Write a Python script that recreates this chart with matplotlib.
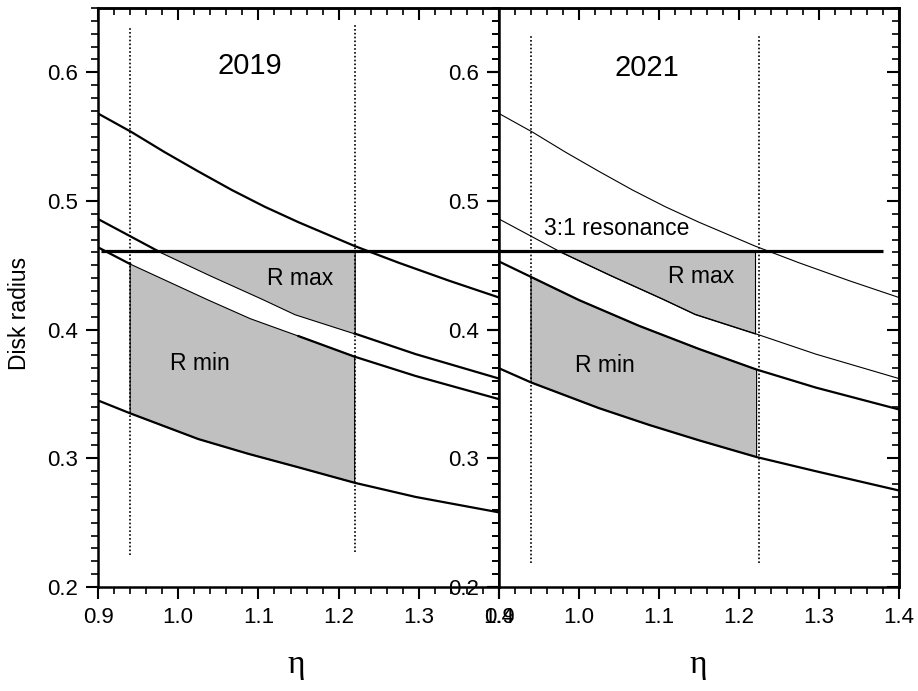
import numpy as np
import matplotlib
matplotlib.use("Agg")
import matplotlib.pyplot as plt
from matplotlib.ticker import MultipleLocator, FormatStrFormatter

plt.rcParams["font.family"] = ["Liberation Sans", "DejaVu Sans"]

# 3:1 resonance radius
resonance = 0.461

# R max curves (same in both years)
eta_a = [0.90, 0.942, 0.983, 1.025, 1.067, 1.108, 1.15, 1.22, 1.275, 1.338, 1.40]
r_a = [0.568, 0.5535, 0.538, 0.523, 0.5085, 0.4955, 0.4835, 0.465, 0.452, 0.438, 0.425]

eta_b = [0.90, 0.942, 0.975, 1.04, 1.104, 1.145, 1.22, 1.296, 1.40]
r_b = [0.486, 0.472, 0.461, 0.442, 0.424, 0.412, 0.397, 0.381, 0.362]

# R min curves 2019
eta_c19 = [0.90, 0.94, 1.0375, 1.09, 1.15, 1.22, 1.296, 1.40]
r_c19 = [0.464, 0.451, 0.423, 0.4085, 0.395, 0.379, 0.364, 0.346]
eta_d19 = [0.90, 0.94, 1.025, 1.0875, 1.15, 1.22, 1.296, 1.40]
r_d19 = [0.345, 0.335, 0.315, 0.3035, 0.293, 0.281, 0.270, 0.258]

# R min curves 2021
eta_c21 = [0.90, 0.94, 1.0, 1.075, 1.15, 1.222, 1.296, 1.40]
r_c21 = [0.453, 0.441, 0.423, 0.403, 0.385, 0.369, 0.355, 0.338]
eta_d21 = [0.90, 0.94, 1.025, 1.0875, 1.15, 1.222, 1.296, 1.40]
r_d21 = [0.370, 0.359, 0.339, 0.326, 0.314, 0.301, 0.290, 0.275]

eta_a, r_a = np.array(eta_a), np.array(r_a)
eta_b, r_b = np.array(eta_b), np.array(r_b)
eta_c19, r_c19 = np.array(eta_c19), np.array(r_c19)
eta_d19, r_d19 = np.array(eta_d19), np.array(r_d19)
eta_c21, r_c21 = np.array(eta_c21), np.array(r_c21)
eta_d21, r_d21 = np.array(eta_d21), np.array(r_d21)

GRAY = "#c0c0c0"
THICK = 1.6
THIN = 0.8
DOT = (0, (1, 1.3))


def band(ax, xu, yu, xl, yl, lo, hi):
    # shaded region between an upper and a lower curve, from lo to hi
    mu = (xu >= lo) & (xu <= hi)
    ml = (xl >= lo) & (xl <= hi)
    xs = np.concatenate([xu[mu], xl[ml][::-1]])
    ys = np.concatenate([yu[mu], yl[ml][::-1]])
    ax.fill(xs, ys, facecolor=GRAY, edgecolor="k", linewidth=THIN)


def rmax_band(ax, lo, hi):
    m = (eta_b >= lo) & (eta_b <= hi)
    ax.fill_between(eta_b[m], r_b[m], resonance, facecolor=GRAY, edgecolor="k", linewidth=THIN)


def style(ax):
    ax.set_xlim(0.9, 1.4)
    ax.set_ylim(0.2, 0.65)
    ax.xaxis.set_major_locator(MultipleLocator(0.1))
    ax.xaxis.set_minor_locator(MultipleLocator(0.02))
    ax.yaxis.set_major_locator(MultipleLocator(0.1))
    ax.yaxis.set_minor_locator(MultipleLocator(0.01))
    ax.xaxis.set_major_formatter(FormatStrFormatter("%.1f"))
    ax.yaxis.set_major_formatter(FormatStrFormatter("%.1f"))
    for s in ax.spines.values():
        s.set_linewidth(1.8)
    ax.tick_params(which="major", direction="out", length=8.6, width=1.5,
                   labelsize=16, pad=6, top=False, right=False)
    ax.tick_params(which="minor", direction="out", length=4.8, width=1.2,
                   top=False, right=False)
    top = ax.secondary_xaxis("top")
    top.xaxis.set_major_locator(MultipleLocator(0.1))
    top.xaxis.set_minor_locator(MultipleLocator(0.02))
    top.tick_params(which="major", direction="in", length=8.6, width=1.5, labeltop=False)
    top.tick_params(which="minor", direction="in", length=4.8, width=1.2)
    top.spines["top"].set_linewidth(1.8)
    rgt = ax.secondary_yaxis("right")
    rgt.yaxis.set_major_locator(MultipleLocator(0.1))
    rgt.yaxis.set_minor_locator(MultipleLocator(0.01))
    rgt.tick_params(which="major", direction="in", length=8.6, width=1.5, labelright=False)
    rgt.tick_params(which="minor", direction="in", length=4.8, width=1.2)
    rgt.spines["right"].set_linewidth(1.8)


fig = plt.figure(figsize=(9.18, 6.91), dpi=100)
ax1 = fig.add_axes([0.1068, 0.1505, 0.4368, 0.8379])
ax2 = fig.add_axes([0.5436, 0.1505, 0.4357, 0.8379])

# ---- 2019 ----
rmax_band(ax1, 0.975, 1.22)
band(ax1, eta_c19, r_c19, eta_d19, r_d19, 0.94, 1.22)

ax1.plot(eta_a, r_a, color="k", lw=THICK)
ax1.plot(eta_b[eta_b <= 0.975], r_b[eta_b <= 0.975], color="k", lw=THICK)
ax1.plot(eta_b[eta_b >= 1.22], r_b[eta_b >= 1.22], color="k", lw=THICK)
ax1.plot(eta_c19[eta_c19 <= 0.94], r_c19[eta_c19 <= 0.94], color="k", lw=THICK)
ax1.plot(eta_c19[eta_c19 >= 1.15], r_c19[eta_c19 >= 1.15], color="k", lw=THICK)
ax1.plot(eta_d19, r_d19, color="k", lw=THICK)
ax1.hlines(resonance, 0.904, 1.4, color="k", lw=2.3)
ax1.vlines(0.9404, 0.225, 0.636, color="k", lw=1.2, linestyles=DOT)
ax1.vlines(1.22, 0.227, 0.638, color="k", lw=1.2, linestyles=DOT)

ax1.text(1.089, 0.5985, "2019", fontsize=21, ha="center", va="baseline")
ax1.text(1.152, 0.4346, "R max", fontsize=16.5, ha="center", va="baseline")
ax1.text(1.0275, 0.3685, "R min", fontsize=16.5, ha="center", va="baseline")

# ---- 2021 ----
rmax_band(ax2, 0.975, 1.222)
band(ax2, eta_c21, r_c21, eta_d21, r_d21, 0.94, 1.222)

ax2.plot(eta_a, r_a, color="k", lw=THIN)
ax2.plot(eta_b, r_b, color="k", lw=THIN)
ax2.plot(eta_c21, r_c21, color="k", lw=THICK)
ax2.plot(eta_d21, r_d21, color="k", lw=THICK)
ax2.hlines(resonance, 0.9, 1.38, color="k", lw=2.3)
ax2.vlines(0.9404, 0.219, 0.63, color="k", lw=1.2, linestyles=DOT)
ax2.vlines(1.225, 0.219, 0.63, color="k", lw=1.2, linestyles=DOT)

ax2.text(1.085, 0.597, "2021", fontsize=21, ha="center", va="baseline")
ax2.text(1.153, 0.4359, "R max", fontsize=16.5, ha="center", va="baseline")
ax2.text(1.032, 0.3672, "R min", fontsize=16.5, ha="center", va="baseline")
ax2.text(0.956, 0.4734, "3:1 resonance", fontsize=16.5, ha="left", va="baseline")

for ax in (ax1, ax2):
    style(ax)

fig.text(0.021, 0.547, "Disk radius", rotation=90, fontsize=16.5, ha="center", va="center")
fig.text(0.323, 0.026, "\u03b7", fontsize=24, ha="center", va="baseline",
         family=["Liberation Serif", "DejaVu Serif"])
fig.text(0.761, 0.026, "\u03b7", fontsize=24, ha="center", va="baseline",
         family=["Liberation Serif", "DejaVu Serif"])

fig.savefig("out.png", dpi=100)
